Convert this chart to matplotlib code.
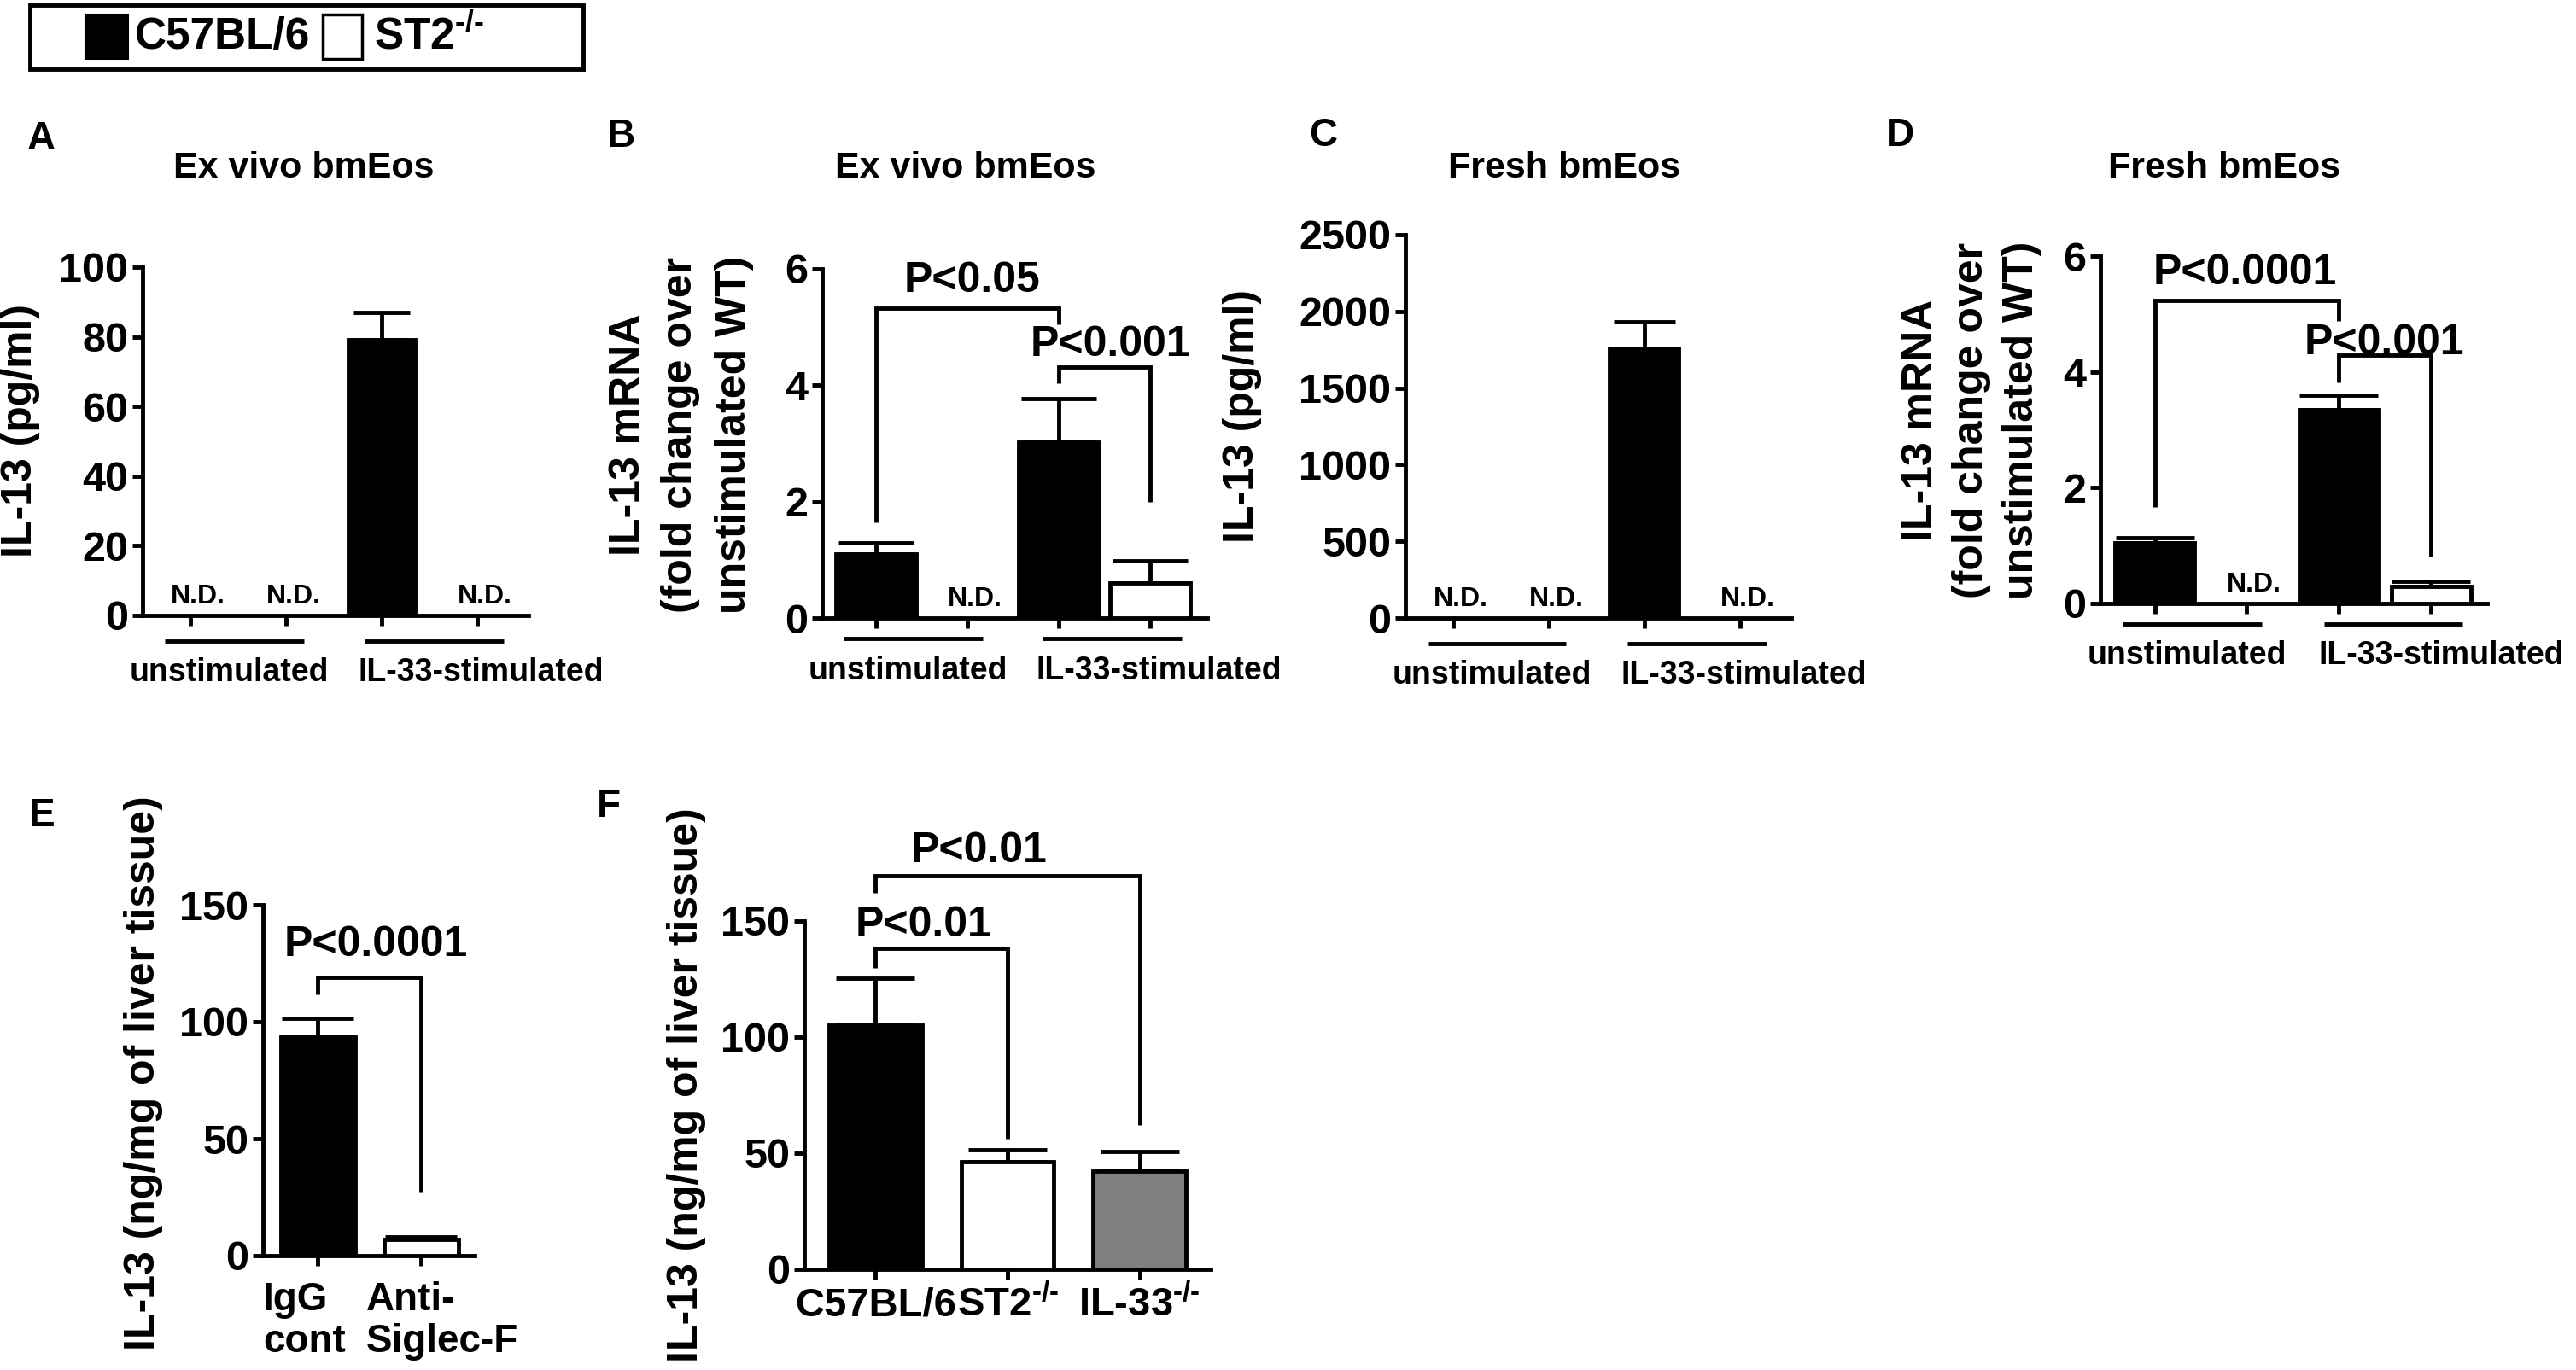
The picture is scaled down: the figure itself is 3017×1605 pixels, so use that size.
import numpy as np
import matplotlib
matplotlib.use("Agg")
import matplotlib.pyplot as plt
from matplotlib.patches import Rectangle

plt.rcParams['font.family'] = ['Liberation Sans', 'DejaVu Sans']
plt.rcParams['font.weight'] = 'bold'
plt.rcParams['mathtext.fontset'] = 'custom'
plt.rcParams['mathtext.rm'] = 'Liberation Sans:bold'
plt.rcParams['mathtext.bf'] = 'Liberation Sans:bold'
plt.rcParams['mathtext.it'] = 'Liberation Sans:bold'
plt.rcParams['mathtext.default'] = 'rm'

# ---------------- data ----------------
legend_labels = ["C57BL/6", r"ST2$^{\text{-/-}}$"]
group_labels = ["unstimulated", "IL-33-stimulated"]
bar_colors4 = ["black", "white", "black", "white"]

a_title = "Ex vivo bmEos"
a_ylabel = "IL-13 (pg/ml)"
a_mean = [0, 0, 79.2, 0]
a_err = [0, 0, 7.8, 0]
a_nd = [True, True, False, True]
a_yticks = [0, 20, 40, 60, 80, 100]

b_title = "Ex vivo bmEos"
b_ylabel = "IL-13 mRNA\n(fold change over\nunstimulated WT)"
b_mean = [1.10, 0, 3.02, 0.60]
b_err = [0.19, 0, 0.75, 0.38]
b_nd = [False, True, False, False]
b_yticks = [0, 2, 4, 6]
b_pvals = ["P<0.05", "P<0.001"]

c_title = "Fresh bmEos"
c_ylabel = "IL-13 (pg/ml)"
c_mean = [0, 0, 1761, 0]
c_err = [0, 0, 172, 0]
c_nd = [True, True, False, True]
c_yticks = [0, 500, 1000, 1500, 2000, 2500]

d_title = "Fresh bmEos"
d_ylabel = "IL-13 mRNA\n(fold change over\nunstimulated WT)"
d_mean = [1.04, 0, 3.34, 0.30]
d_err = [0.10, 0, 0.26, 0.08]
d_nd = [False, True, False, False]
d_yticks = [0, 2, 4, 6]
d_pvals = ["P<0.0001", "P<0.001"]

e_ylabel = "IL-13 (ng/mg of liver tissue)"
e_labels = ["IgG\ncont", "Anti-\nSiglec-F"]
e_mean = [93.4, 6.9]
e_err = [8.2, 1.3]
e_colors = ["black", "white"]
e_yticks = [0, 50, 100, 150]
e_pvals = ["P<0.0001"]

f_ylabel = "IL-13 (ng/mg of liver tissue)"
f_labels = ["C57BL/6", r"ST2$^{\text{-/-}}$", r"IL-33$^{\text{-/-}}$"]
f_mean = [105.0, 46.3, 42.2]
f_err = [20.2, 5.3, 8.7]
f_colors = ["black", "white", "#808080"]
f_yticks = [0, 50, 100, 150]
f_pvals = ["P<0.01", "P<0.01"]

# ---------------- layout helpers ----------------
W, H = 3017, 1605
fig = plt.figure(figsize=(W / 100, H / 100), dpi=100)
LW = 3.5
TICK_FS = 35
YLAB_FS = 36
TITLE_FS = 31
LETTER_FS = 33
GROUP_FS = 27
ND_FS = 23
P_FS = 36
LEG_FS = 37


def fx(x):
    return x / W


def fy(y):
    return 1 - y / H


def make_ax(l, t, r, b, xlim, ylim, yticks, nx):
    ax = fig.add_axes([fx(l), fy(b), (r - l) / W, (b - t) / H])
    ax.set_xlim(*xlim)
    ax.set_ylim(*ylim)
    for s in ["top", "right"]:
        ax.spines[s].set_visible(False)
    for s in ["left", "bottom"]:
        ax.spines[s].set_linewidth(LW)
    ax.set_yticks(yticks)
    ax.set_yticklabels([str(v) for v in yticks])
    ax.set_xticks(range(nx))
    ax.set_xticklabels([])
    ax.tick_params(axis="both", direction="out", length=8.5, width=LW,
                   labelsize=TICK_FS, pad=3.5)
    ax.patch.set_visible(False)
    hpx = b - t
    spx = (r - l) / (xlim[1] - xlim[0])
    return ax, hpx, spx


ax_h = {}


def draw_bars(ax, means, errs, nd, colors, width, capsize):
    x = np.arange(len(means))
    show = [i for i in range(len(means)) if not nd[i]]
    m = np.array(means, dtype=float)[show]
    e = np.array(errs, dtype=float)[show]
    ax.bar(x[show], m, width, color=[colors[i] for i in show],
           edgecolor="black", linewidth=LW, zorder=3)
    ax.errorbar(x[show], m, yerr=[np.zeros(len(show)), e], fmt="none",
                ecolor="black", elinewidth=LW, capsize=capsize,
                capthick=LW, zorder=2)
    for i in range(len(means)):
        if nd[i]:
            ax.text(i + 0.08, 22 / ax_h[id(ax)], "N.D.",
                    transform=ax.get_xaxis_transform(), ha="center",
                    va="center", fontsize=ND_FS)


def bracket(ax, x1, x2, ytop, y1, y2, label, tx, ty):
    ax.plot([x1, x1, x2, x2], [y1, ytop, ytop, y2], color="black", lw=LW,
            clip_on=False, solid_joinstyle="miter", solid_capstyle="butt",
            zorder=4)
    ax.text(tx, ty, label, ha="center", va="center", fontsize=P_FS,
            clip_on=False)


def groups(ax, hpx, spx, spans, line_off, label_off):
    tr = ax.get_xaxis_transform()
    for (s0, s1) in spans:
        ax.plot([s0, s1], [-line_off / hpx] * 2, transform=tr, clip_on=False,
                color="black", lw=LW, solid_capstyle="butt")
    c1 = (spans[0][0] + spans[0][1]) / 2 - 6 / spx
    ax.text(c1, -label_off / hpx, group_labels[0], transform=tr,
            ha="center", va="center", fontsize=GROUP_FS)
    ax.text(spans[1][0] - 7 / spx, -label_off / hpx, group_labels[1],
            transform=tr, ha="left", va="center", fontsize=GROUP_FS)


def ylabel_lines(text, xs, yc):
    for line, x in zip(text.split("\n"), xs):
        fig.text(fx(x), fy(yc), line, rotation=90, ha="center", va="center",
                 fontsize=YLAB_FS)


# ---------------- Panel A ----------------
axA, hA, sA = make_ax(167, 313, 619, 721, (-0.5, 3.54), (0, 100), a_yticks, 4)
ax_h[id(axA)] = hA
draw_bars(axA, a_mean, a_err, a_nd, bar_colors4, 0.70, 24)
groups(axA, hA, sA, [(-0.27, 1.19), (1.82, 3.28)], 29.5, 67)
fig.text(fx(48), fy(163), "A", fontsize=LETTER_FS, ha="center", va="center")
fig.text(fx(356), fy(197), a_title, fontsize=TITLE_FS, ha="center", va="center")
ylabel_lines(a_ylabel, [24], 505)

# ---------------- Panel B ----------------
axB, hB, sB = make_ax(963, 315, 1414, 724, (-0.59, 3.63), (0, 6), b_yticks, 4)
ax_h[id(axB)] = hB
draw_bars(axB, b_mean, b_err, b_nd, bar_colors4, 0.88, 32)
groups(axB, hB, sB, [(-0.36, 1.17), (1.82, 3.35)], 24, 62)
bracket(axB, 0, 2, 5.33, 1.64, 5.05, b_pvals[0], 1.05, 5.8)
bracket(axB, 2, 3, 4.32, 4.03, 2.0, b_pvals[1], 2.57, 4.69)
fig.text(fx(727), fy(160), "B", fontsize=LETTER_FS, ha="center", va="center")
fig.text(fx(1131), fy(197), b_title, fontsize=TITLE_FS, ha="center", va="center")
ylabel_lines(b_ylabel, [736, 797, 860], 509)

# ---------------- Panel C ----------------
axC, hC, sC = make_ax(1646, 275, 2098, 724, (-0.5, 3.54), (0, 2500), c_yticks, 4)
ax_h[id(axC)] = hC
draw_bars(axC, c_mean, c_err, c_nd, bar_colors4, 0.72, 26)
groups(axC, hC, sC, [(-0.26, 1.18), (1.82, 3.28)], 30, 67)
fig.text(fx(1550), fy(159), "C", fontsize=LETTER_FS, ha="center", va="center")
fig.text(fx(1832), fy(197), c_title, fontsize=TITLE_FS, ha="center", va="center")
ylabel_lines(c_ylabel, [1455], 487)

# ---------------- Panel D ----------------
axD, hD, sD = make_ax(2460, 300, 2913, 707, (-0.59, 3.61), (0, 6), d_yticks, 4)
ax_h[id(axD)] = hD
draw_bars(axD, d_mean, d_err, d_nd, bar_colors4, 0.86, 33)
groups(axD, hD, sD, [(-0.35, 1.16), (1.84, 3.34)], 24, 61)
bracket(axD, 0, 2, 5.24, 1.66, 4.88, d_pvals[0], 0.98, 5.70)
bracket(axD, 2, 3, 4.29, 3.82, 0.81, d_pvals[1], 2.49, 4.49)
fig.text(fx(2225), fy(159), "D", fontsize=LETTER_FS, ha="center", va="center")
fig.text(fx(2605), fy(197), d_title, fontsize=TITLE_FS, ha="center", va="center")
ylabel_lines(d_ylabel, [2250, 2309, 2368], 492)

# ---------------- Panel E ----------------
axE, hE, sE = make_ax(308, 1060, 556, 1471, (-0.53, 1.52), (0, 150), e_yticks, 2)
ax_h[id(axE)] = hE
draw_bars(axE, e_mean, e_err, [False, False], e_colors, 0.72, 30)
bracket(axE, 0, 1, 118.9, 111.5, 27.0, e_pvals[0], 0.56, 132.8)
for i, lab in enumerate(e_labels):
    for k, line in enumerate(lab.split("\n")):
        axE.text(i - 0.53, -(52 + 49 * k) / hE, line,
                 transform=axE.get_xaxis_transform(), ha="left", va="center",
                 fontsize=33)
fig.text(fx(49), fy(956), "E", fontsize=LETTER_FS, ha="center", va="center")
ylabel_lines(e_ylabel, [168], 1257)

# ---------------- Panel F ----------------
axF, hF, sF = make_ax(942, 1079, 1418, 1487, (-0.54, 2.54), (0, 150), f_yticks, 3)
ax_h[id(axF)] = hF
draw_bars(axF, f_mean, f_err, [False, False, False], f_colors, 0.70, 33)
bracket(axF, 0, 1, 138.1, 129.8, 56.2, f_pvals[0], 0.36, 148.0)
bracket(axF, 0, 2, 169.5, 162.0, 62.0, f_pvals[1], 0.78, 180.0)
for i, lab in enumerate(f_labels):
    axF.text(i, -42 / hF, lab, transform=axF.get_xaxis_transform(),
             ha="center", va="center", fontsize=34)
fig.text(fx(713), fy(945), "F", fontsize=LETTER_FS, ha="center", va="center")
ylabel_lines(f_ylabel, [804], 1271)

# ---------------- Legend ----------------
fig.add_artist(Rectangle((fx(35), fy(81)), (683 - 35) / W, (81 - 6) / H,
                         transform=fig.transFigure, fill=False,
                         edgecolor="black", lw=LW))
fig.add_artist(Rectangle((fx(100), fy(69)), 50 / W, 52 / H,
                         transform=fig.transFigure, facecolor="black",
                         edgecolor="black", lw=1.5))
fig.add_artist(Rectangle((fx(378), fy(69)), 46 / W, 52 / H,
                         transform=fig.transFigure, facecolor="white",
                         edgecolor="black", lw=2.5))
fig.text(fx(158), fy(43), legend_labels[0], ha="left", va="center", fontsize=LEG_FS)
fig.text(fx(438), fy(43), legend_labels[1], ha="left", va="center", fontsize=LEG_FS)

fig.savefig("out.png", dpi=100, facecolor="white")
